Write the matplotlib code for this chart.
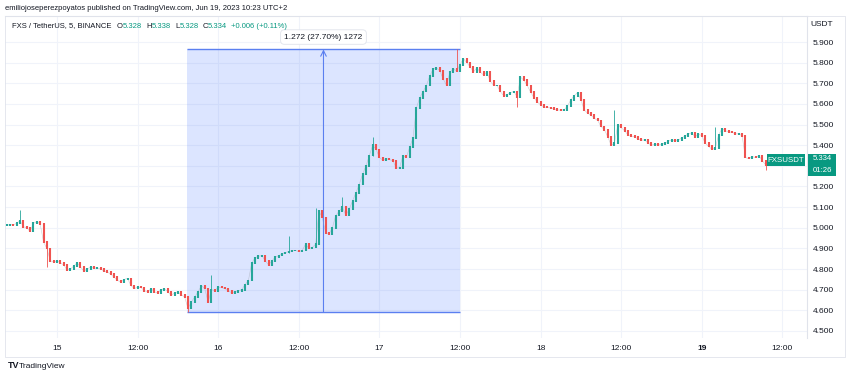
import numpy as np
import matplotlib
matplotlib.use('Agg')
import matplotlib.pyplot as plt
from matplotlib.patches import Rectangle
from matplotlib.text import Annotation

plt.rcParams['font.family'] = ['Liberation Sans', 'DejaVu Sans']

# FXS/USDT, 30 minute closes (hours since Jun 15 00:00)
t_start = -7.5
t_step = 0.5
closes = [
    # Jun 14 16:30 - Jun 15 00:00
    5.012, 5.015, 5.014, 5.022, 5.035, 5.005, 5.000, 4.982, 5.022, 5.030, 5.018, 4.930, 4.900, 4.840, 4.835, 4.840,
    # Jun 15 00:30 - 12:00
    4.830, 4.820, 4.795, 4.800, 4.815, 4.830, 4.810, 4.790, 4.800, 4.810, 4.805, 4.805,
    4.800, 4.790, 4.786, 4.775, 4.760, 4.745, 4.737, 4.750, 4.755, 4.720, 4.705, 4.713,
    # Jun 15 12:30 - Jun 16 00:00
    4.710, 4.695, 4.690, 4.705, 4.690, 4.684, 4.700, 4.705, 4.690, 4.672, 4.685, 4.690,
    4.675, 4.665, 4.610, 4.640, 4.665, 4.690, 4.720, 4.705, 4.640, 4.700, 4.695, 4.713,
    # Jun 16 00:30 - 12:00
    4.710, 4.705, 4.695, 4.685, 4.690, 4.695, 4.700, 4.725, 4.745, 4.830, 4.855, 4.862,
    4.865, 4.840, 4.820, 4.840, 4.858, 4.865, 4.875, 4.880, 4.885, 4.890, 4.890, 4.885,
    # Jun 16 12:30 - Jun 17 00:00
    4.890, 4.920, 4.900, 4.905, 4.920, 5.080, 5.050, 4.975, 4.970, 5.000, 5.060, 5.080,
    5.100, 5.060, 5.090, 5.130, 5.170, 5.210, 5.260, 5.300, 5.350, 5.400, 5.380, 5.340,
    # Jun 17 00:30 - 12:00
    5.328, 5.335, 5.330, 5.325, 5.290, 5.290, 5.350, 5.340, 5.390, 5.435, 5.580, 5.630,
    5.660, 5.690, 5.735, 5.770, 5.775, 5.760, 5.720, 5.690, 5.755, 5.770, 5.760, 5.790,
    # Jun 17 12:30 - Jun 18 00:00
    5.820, 5.800, 5.780, 5.755, 5.775, 5.755, 5.740, 5.755, 5.710, 5.690, 5.690, 5.660,
    5.640, 5.645, 5.655, 5.660, 5.635, 5.730, 5.715, 5.690, 5.658, 5.630, 5.610, 5.595,
    # Jun 18 00:30 - 12:00
    5.585, 5.583, 5.580, 5.575, 5.571, 5.570, 5.572, 5.590, 5.620, 5.640, 5.655, 5.620,
    5.570, 5.555, 5.545, 5.530, 5.520, 5.490, 5.475, 5.440, 5.400, 5.410, 5.500, 5.485,
    # Jun 18 12:30 - Jun 19 00:00
    5.470, 5.450, 5.445, 5.440, 5.430, 5.425, 5.425, 5.410, 5.400, 5.405, 5.400, 5.405,
    5.410, 5.420, 5.425, 5.420, 5.425, 5.435, 5.445, 5.455, 5.460, 5.440, 5.455, 5.445,
    # Jun 19 00:30 - 10:00
    5.410, 5.395, 5.380, 5.385, 5.450, 5.480, 5.470, 5.465, 5.462, 5.455, 5.455, 5.445,
    5.340, 5.335, 5.345, 5.340, 5.350, 5.325, 5.305, 5.334,
]

# notable wicks (hour, extreme price)
wick_hours = [-5.5, -1.5, 19.5, 23.0, 34.5, 38.5, 42.5, 47.0, 59.5, 68.5, 83.0, 98.0, 105.5]
wick_prices = [5.086, 4.810, 4.592, 4.770, 4.960, 5.096, 5.150, 5.440, 5.864, 5.585, 5.570, 5.490, 5.280]

# measuring tool
measure_t = [19.35, 60.0]
measure_p = [4.592, 5.864]
measure_text = '1.272 (27.70%) 1272'

price_ticks = [4.5, 4.6, 4.7, 4.8, 4.9, 5.0, 5.1, 5.2, 5.3, 5.4, 5.5, 5.6, 5.7, 5.8, 5.9]
time_ticks = [0, 12, 24, 36, 48, 60, 72, 84, 96, 108]
time_labels = ['15', '12:00', '16', '12:00', '17', '12:00', '18', '12:00', '19', '12:00']
last_price = '5.334'
countdown = '01:26'

up_col = '#26a69a'
down_col = '#ef5350'
tv_green = '#089981'
text_col = '#131722'
grid_col = '#f0f3fa'
border_col = '#e0e3eb'

W, H = 850, 377
fig = plt.figure(figsize=(W / 100, H / 100), dpi=100)
ax = fig.add_axes([5 / W, 1 - 338 / H, 802 / W, 322 / H])

hours = t_start + t_step * np.arange(len(closes))
closes = np.array(closes)
opens = np.r_[closes[0], closes[:-1]]
colors = np.where(closes >= opens, up_col, down_col)

# measuring box (behind candles)
ax.fill_between(measure_t, measure_p[0], measure_p[1], color='#2962ff', alpha=0.16, lw=0, zorder=1)
ax.hlines(measure_p, measure_t[0], measure_t[1], color='#5b7ff0', lw=1.0, zorder=2)
mid = (measure_t[0] + measure_t[1]) / 2
ax.annotate('', xy=(mid, measure_p[1]), xytext=(mid, measure_p[0]),
            arrowprops=dict(arrowstyle='->', color='#5b7ff0', lw=0.8, shrinkA=0, shrinkB=0), zorder=2)
ax.text(mid, 5.924, measure_text, ha='center', va='center', fontsize=6, color=text_col,
        bbox=dict(boxstyle='round,pad=0.45', fc='white', ec=border_col, lw=0.6), zorder=5)

# candles: open = previous close
ax.plot(hours, closes, color='#9aa0a6', lw=0.4, alpha=0.5, zorder=3)
for hw, pw in zip(wick_hours, wick_prices):
    i = int(np.argmin(np.abs(hours - hw)))
    base = closes[i] if abs(pw - closes[i]) > abs(pw - opens[i]) else opens[i]
    ax.vlines(hours[i], min(base, pw), max(base, pw), color=colors[i], lw=0.6, zorder=3)
ax.vlines(hours, np.minimum(opens, closes) - 0.004, np.maximum(opens, closes) + 0.004,
          colors=colors, lw=1.5, zorder=4)

ax.set_xlim(-7.74, 111.66)
ax.set_ylim(4.466, 6.026)
ax.set_yticks(price_ticks)
# the 5.300 label sits under the last-price tag
ax.set_yticklabels(['' if abs(p - 5.3) < 1e-9 else '%.3f' % p for p in price_ticks])
ax.yaxis.tick_right()
ax.set_xticks(time_ticks)
ax.set_xticklabels(time_labels)
ax.tick_params(axis='both', length=0, labelsize=6, labelcolor=text_col)
ax.tick_params(axis='y', pad=4)
ax.tick_params(axis='x', pad=5)
for lab in ax.get_xticklabels():
    if lab.get_text() == '19':
        lab.set_fontweight('bold')
ax.grid(True, color=grid_col, lw=0.8)
ax.set_axisbelow(True)
for side in ['left', 'bottom']:
    ax.spines[side].set_visible(False)
for side in ['top', 'right']:
    ax.spines[side].set_color(border_col)
    ax.spines[side].set_linewidth(0.8)

# outer frame
fig.add_artist(Rectangle((5 / W, 1 - 357 / H), 840 / W, 341 / H, transform=fig.transFigure,
                         fill=False, ec=border_col, lw=0.6))

# price axis title and last price tag
fig.text(822 / W, 1 - 24 / H, 'USDT', ha='center', va='center', fontsize=6, color=text_col)
fig.add_artist(Rectangle((767 / W, 1 - 166 / H), 38 / W, 12 / H, transform=fig.transFigure,
                         fc=tv_green, ec='none'))
fig.text(786 / W, 1 - 160 / H, 'FXSUSDT', ha='center', va='center', fontsize=5.7, color='white')
fig.add_artist(Rectangle((808 / W, 1 - 176 / H), 28 / W, 22 / H, transform=fig.transFigure,
                         fc=tv_green, ec='none'))
fig.text(822 / W, 1 - 159 / H, last_price, ha='center', va='center', fontsize=5.6, color='white')
fig.text(822 / W, 1 - 170.5 / H, countdown, ha='center', va='center', fontsize=5.6, color='white')

# header
fig.text(5 / W, 1 - 9 / H, 'emiliojoseperezpoyatos published on TradingView.com, Jun 19, 2023 10:23 UTC+2',
         ha='left', va='center', fontsize=5.5, color=text_col)
pieces = [('O', text_col, 4), ('5.328', tv_green, 0), ('H', text_col, 3), ('5.338', tv_green, 0),
          ('L', text_col, 3), ('5.328', tv_green, 0), ('C', text_col, 3), ('5.334', tv_green, 0),
          ('+0.006 (+0.11%)', tv_green, 3)]
anchor = fig.text(12 / W, 1 - 26 / H, 'FXS / TetherUS, 5, BINANCE', ha='left', va='center',
                  fontsize=5.5, color=text_col)
for txt, col, gap in pieces:
    anchor = fig.add_artist(Annotation(txt, xy=(1, 0.5), xycoords=anchor, xytext=(gap, 0),
                                       textcoords='offset points', ha='left', va='center',
                                       fontsize=5.5, color=col))

# footer logo
fig.text(8 / W, 1 - 366 / H, 'TV', ha='left', va='center', fontsize=6.5, fontweight='bold', color=text_col)
fig.text(19 / W, 1 - 366 / H, 'TradingView', ha='left', va='center', fontsize=6, color=text_col)

fig.savefig('out.png', dpi=100)
